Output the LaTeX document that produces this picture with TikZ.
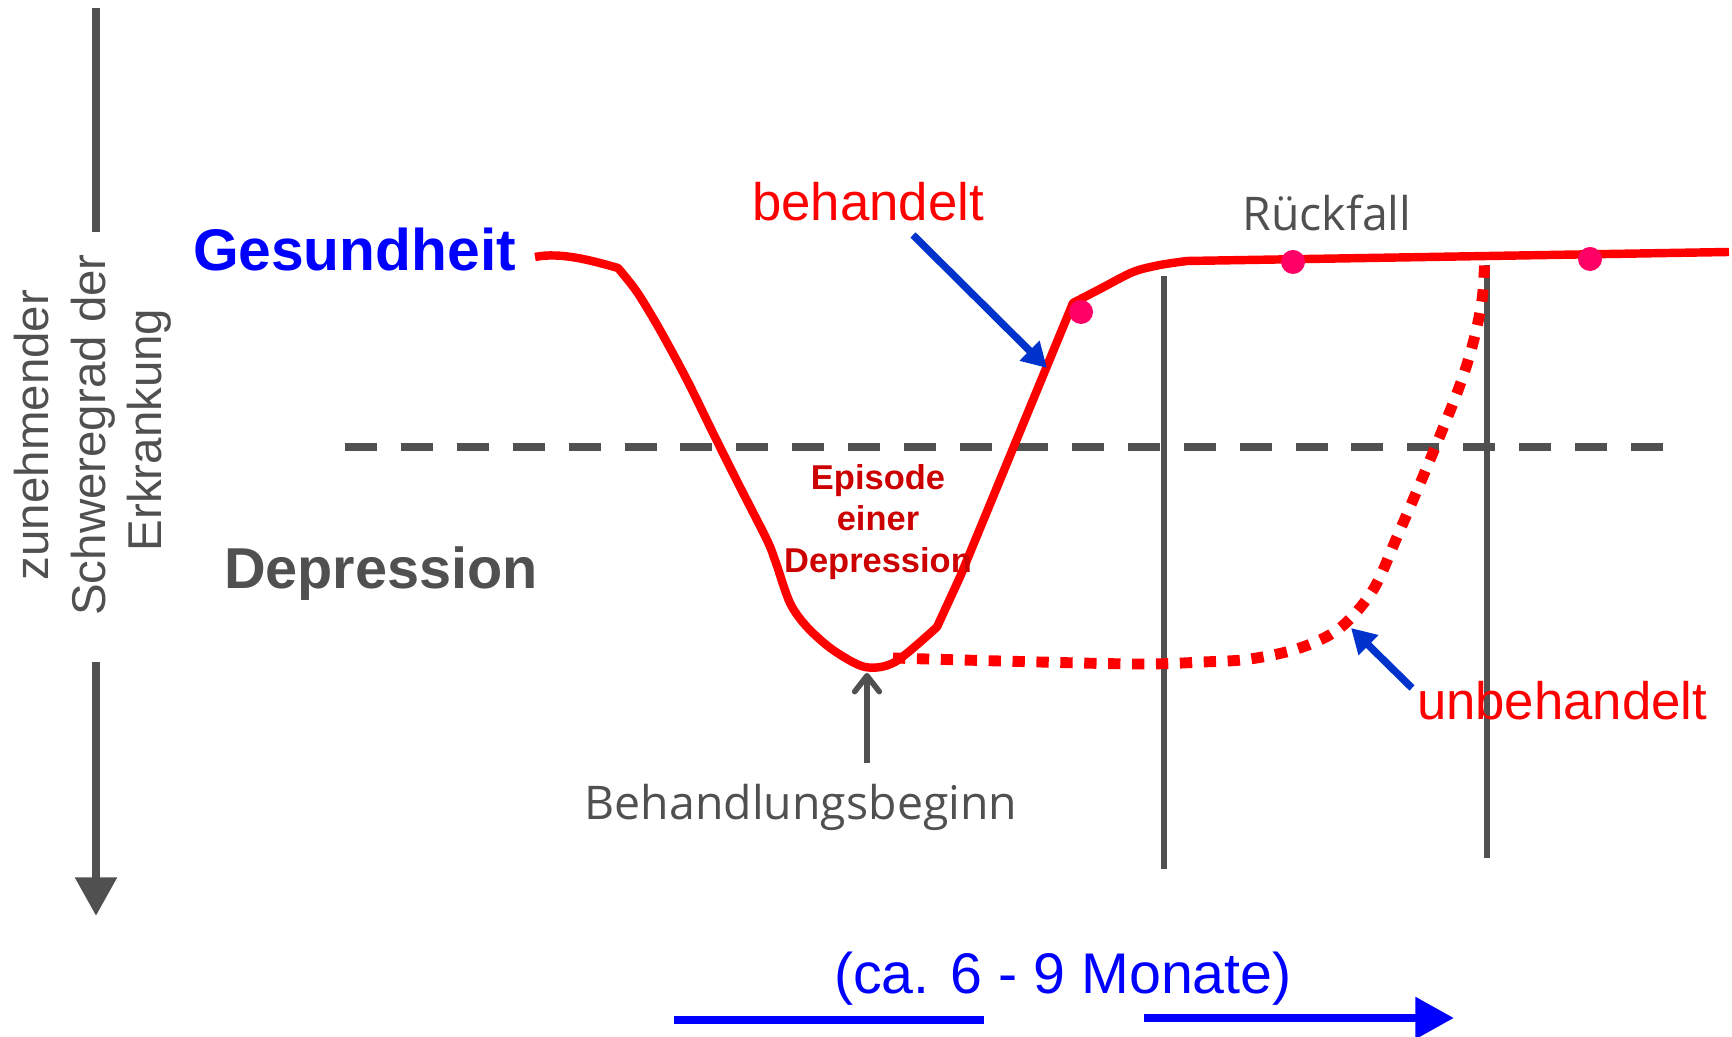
\documentclass[tikz,border=0pt]{standalone}
\usepackage{fontspec}
\setmainfont{Liberation Sans}
\newfontfamily\humfont{Open Sans}
\usetikzlibrary{arrows.meta}
\definecolor{dgray}{HTML}{505050}
\definecolor{ared}{HTML}{FF0000}
\definecolor{dred}{HTML}{CC0000}
\definecolor{tblue}{HTML}{0000FF}
\definecolor{ablue}{HTML}{0033CC}
\definecolor{dotpink}{HTML}{FF0066}
\tikzset{
  txt/.style={inner sep=0pt, outer sep=0pt},
  redline/.style={draw=ared, line width=2.4pt, line join=round, line cap=butt},
  dotline/.style={draw=ared, line width=3.1pt, dash pattern=on 3.5pt off 3.3pt},
  graydash/.style={draw=dgray, line width=2.1pt, dash pattern=on 9.1pt off 6.8pt},
  vline/.style={draw=dgray, line width=1.8pt},
  bluearrow/.style={draw=ablue, line width=2.1pt, -{Triangle[length=7pt,width=7.6pt]}},
  bigarrow/.style={line width=2.4pt, -{Triangle[length=11pt,width=11.4pt]}},
  thinarrow/.style={draw=dgray, line width=1.6pt, -{Straight Barb[length=4.5pt,width=7pt,line cap=round,line join=round]}},
  pinkdot/.style={fill=dotpink, draw=none},
}
\begin{document}
\begin{tikzpicture}[x=0.01cm,y=-0.01cm]
\useasboundingbox (0,0) rectangle (1732,1037);

% left axis arrow
\coordinate (axtop) at (96,8);
\coordinate (axmid1) at (96,232);
\coordinate (axmid2) at (96,662);
\coordinate (axtip) at (96,916);
\draw[draw=dgray, line width=2.4pt] (axtop) -- (axmid1);
\draw[bigarrow, draw=dgray, fill=dgray] (axmid2) -- (axtip);

% rotated axis label
\node[txt, rotate=90, anchor=base, text=dgray, font=\fontsize{13.5}{16}\selectfont] (ax1) at (48,435) {zunehmender};
\node[txt, rotate=90, anchor=base, text=dgray, font=\fontsize{13.5}{16}\selectfont] (ax2) at (105,435) {Schweregrad der};
\node[txt, rotate=90, anchor=base, text=dgray, font=\fontsize{13.5}{16}\selectfont] (ax3) at (162,430) {Erkrankung};

% labels
\node[txt, anchor=base west, text=tblue, font=\bfseries\fontsize{16.7}{20}\selectfont] (ges) at (193,271) {Gesundheit};
\node[txt, anchor=base west, text=dgray, font=\bfseries\fontsize{16.4}{20}\selectfont] (dep) at (224,589) {Depression};

% dashed threshold
\coordinate (dl) at (345,447);
\coordinate (dr) at (1665,447);
\draw[graydash] (dl) -- (dr);

% vertical lines
\coordinate (v1t) at (1164,276);
\coordinate (v1b) at (1164,869);
\coordinate (v2t) at (1487,265);
\coordinate (v2b) at (1487,858);
\draw[vline] (v1t) -- (v1b);
\draw[vline] (v2t) -- (v2b);

% treated curve
\draw[redline] (535,257) .. controls (560,252) and (590,260) .. (618,268)
  -- plot[smooth, tension=0.5] coordinates {(618,268) (637,292) (660,330) (687,380) (713,433) (740,487) (767,540) (776,563) (790,603) (807,627) (833,650) (865,667) (895,662) (937,627)}
  -- (960,577) -- (1073,303)
  -- plot[smooth, tension=0.5] coordinates {(1073,303) (1100,289) (1133,272) (1160,265) (1187,261)}
  -- (1729,252);

% untreated curve
\draw[dotline] plot[smooth, tension=0.55] coordinates {(893,658) (1000,661) (1137,664) (1203,662) (1250,659) (1300,648) (1340,628) (1373,590) (1397,537) (1427,467) (1457,393) (1472,347) (1482,300) (1485,253)};

% dots
\fill[pinkdot] (1081,312) circle (12);
\fill[pinkdot] (1293,262) circle (12);
\fill[pinkdot] (1590,259) circle (12);

% texts
\node[txt, anchor=base, text=ared, font=\fontsize{15}{18}\selectfont] (beh) at (868,221) {behandelt};
\node[txt, anchor=base, text=dgray, font=\humfont\fontsize{13.2}{16}\selectfont] (rueck) at (1327,231) {Rückfall};
\node[txt, anchor=base, text=dred, font=\bfseries\fontsize{9.8}{12}\selectfont] (ep1) at (878,490) {Episode};
\node[txt, anchor=base, text=dred, font=\bfseries\fontsize{9.8}{12}\selectfont] (ep2) at (878,531) {einer};
\node[txt, anchor=base, text=dred, font=\bfseries\fontsize{9.8}{12}\selectfont] (ep3) at (878,573) {Depression};
\node[txt, anchor=base west, text=ared, font=\fontsize{15}{18}\selectfont] (unbeh) at (1417,720) {unbehandelt};
\node[txt, anchor=base, text=dgray, font=\humfont\fontsize{13.2}{16}\selectfont] (bb) at (801,820) {Behandlungsbeginn};
\node[txt, anchor=base, text=tblue, font=\fontsize{16.3}{19}\selectfont] (mon) at (1063,994) {(ca. 6 - 9 Monate)};

% blue pointer arrows
\coordinate (a1s) at (913,235);
\coordinate (a1e) at (1047,368);
\draw[bluearrow, fill=ablue] (a1s) -- (a1e);
\coordinate (a2s) at (1412,688);
\coordinate (a2e) at (1351,628);
\draw[bluearrow, fill=ablue] (a2s) -- (a2e);

% treatment start arrow
\coordinate (bbs) at (867,763);
\coordinate (bbe) at (867,673);
\draw[thinarrow] (bbs) -- (bbe);

% bottom time bar
\coordinate (t1) at (674,1020);
\coordinate (t2) at (984,1020);
\draw[draw=tblue, line width=2.4pt] (t1) -- (t2);
\coordinate (t3) at (1144,1018);
\coordinate (t4) at (1454,1018);
\draw[bigarrow, draw=tblue, fill=tblue] (t3) -- (t4);
\end{tikzpicture}
\end{document}
